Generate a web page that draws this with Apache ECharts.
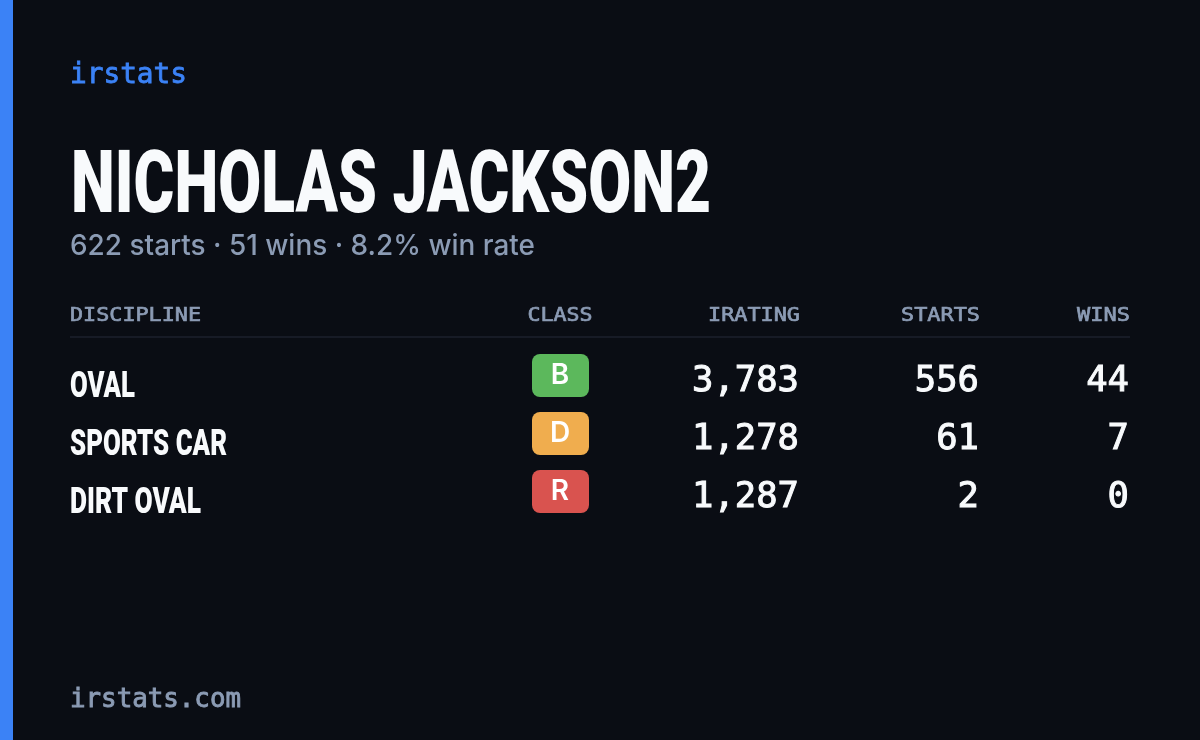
<!DOCTYPE html>
<html><head><meta charset="utf-8">
<style>html,body{margin:0;padding:0;background:#0a0d14}#c{width:1200px;height:740px}</style>
<script src="https://cdn.jsdelivr.net/npm/echarts@6/dist/echarts.min.js"></script>
</head><body><div id="c"></div>
<script>
const brand = 'irstats';
const driver = 'NICHOLAS JACKSON2';
const summary = '622 starts · 51 wins · 8.2% win rate';
const footer = 'irstats.com';
const headers = ['DISCIPLINE','CLASS','IRATING','STARTS','WINS'];
const disciplines = ['OVAL','SPORTS CAR','DIRT OVAL'];
const classes = ['B','D','R'];
const classColors = ['#5cb85c','#f0ad4e','#d9534f'];
const iratings = [3783,1278,1287];
const starts = [556,61,2];
const wins = [44,7,0];

const MONO='"DejaVu Sans Mono"', NARROW='Roboto', SANS='Inter';
const WHITE='#f8fafc', MUTED='#8b9bb4', BG='#0a0d14';
const mctx=document.createElement('canvas').getContext('2d');
function T(text,x,base,size,family,weight,fill,align,width,bold){
  const font=weight+' '+size+'px '+family;
  mctx.font=font;
  mctx.textBaseline='alphabetic';
  const w=mctx.measureText(text).width;
  mctx.textBaseline='middle';
  const d=mctx.measureText('H').actualBoundingBoxDescent;
  const sx=width?width/w:1;
  const style={text:text,font:font,fill:fill,textAlign:align||'left',textVerticalAlign:'middle'};
  if(bold){style.stroke=fill;style.lineWidth=bold;}
  return {type:'text',x:x,y:base-d,scaleX:sx,silent:true,style:style};
}
const fmt=n=>n.toLocaleString('en-US');
const els=[];
els.push({type:'rect',shape:{x:0,y:0,width:13,height:740},style:{fill:'#3b82f6'},silent:true});
els.push(T(brand,70,83,28,MONO,'normal','#3b82f6','left',117,0.8));
els.push(T(driver,71,212,87,NARROW,'900',WHITE,'left',640));
els.push(T(summary,70,255,29,SANS,'500',MUTED,'left',465));
const colX=[70,560,800,980,1130];
const colAlign=['left','center','right','right','right'];
const colW=[131,65,92,79,53];
headers.forEach((h,i)=>els.push(T(h,colX[i],321,20,MONO,'normal',MUTED,colAlign[i],colW[i],0.7)));
els.push({type:'rect',shape:{x:70,y:336,width:1060,height:2},style:{fill:'#171b26'},silent:true});
const nameW=[65,157,131];
disciplines.forEach((d,r)=>{
  const off=58*r;
  els.push(T(d,70,397+off,36,NARROW,'900',WHITE,'left',nameW[r]));
  els.push({type:'rect',shape:{x:532,y:354+off,width:57,height:43,r:8},style:{fill:classColors[r]},silent:true});
  els.push(T(classes[r],560,384+off,28,SANS,'600','#ffffff','center'));
  const a=fmt(iratings[r]),b=String(starts[r]),c=String(wins[r]);
  els.push(T(a,799,391+off,36,MONO,'normal',WHITE,'right',a.length*21.4,1));
  els.push(T(b,979,391+off,36,MONO,'normal',WHITE,'right',b.length*21.4,1));
  els.push(T(c,1129,391+off,36,MONO,'normal',WHITE,'right',c.length*21.4,1));
});
els.push(T(footer,70,707,26,MONO,'normal',MUTED,'left',171,0.9));
const chart=echarts.init(document.getElementById('c'),null,{renderer:'canvas',width:1200,height:740});
chart.setOption({backgroundColor:BG,animation:false,graphic:{elements:els}});
</script></body></html>
